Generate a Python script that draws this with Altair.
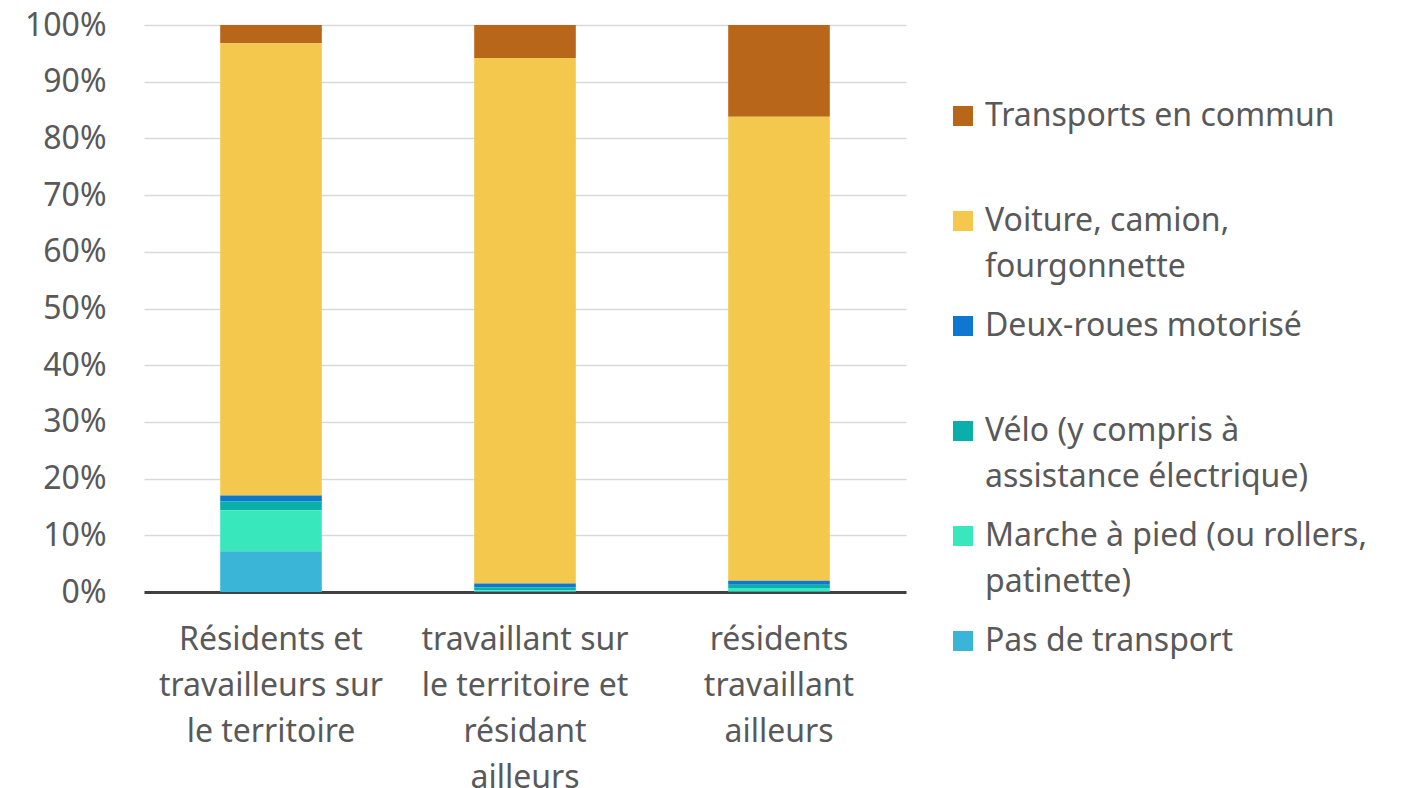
import altair as alt
import pandas as pd

categories = [
    "Résidents et|travailleurs sur|le territoire",
    "travaillant sur|le territoire et|résidant|ailleurs",
    "résidents|travaillant|ailleurs",
]
modes = [
    "Transports en commun",
    "Voiture, camion,|fourgonnette",
    "Deux-roues motorisé",
    "Vélo (y compris à|assistance électrique)",
    "Marche à pied (ou rollers,|patinette)",
    "Pas de transport",
]
colors = ["#B86619", "#F4C74D", "#0E77CF", "#0BAFA9", "#38E8BC", "#3AB4D7"]

transports = [3.2, 5.8, 16.2]
voiture = [79.8, 92.7, 81.8]
deux_roues = [1.0, 0.7, 0.7]
velo = [1.6, 0.5, 0.6]
marche = [7.2, 0.2, 0.6]
pas = [7.2, 0.1, 0.1]

series = [transports, voiture, deux_roues, velo, marche, pas]
rows = []
for mi, (m, vals) in enumerate(zip(modes, series)):
    for ci, c in enumerate(categories):
        rows.append({"cat": c, "mode": m, "value": vals[ci], "rank": len(modes) - mi})
df = pd.DataFrame(rows)

FONT = "Noto Sans"
TXT = "#595959"
FS = 32

legend_label_expr = (
    "indexof(['Transports en commun', 'Deux-roues motorisé'], datum.label) >= 0"
    " ? [datum.label, ' '] : split(datum.label, '|')"
)

chart = (
    alt.Chart(df)
    .mark_bar()
    .encode(
        x=alt.X(
            "cat:N",
            sort=categories,
            title=None,
            scale=alt.Scale(paddingInner=0.6, paddingOuter=0.3),
            axis=alt.Axis(
                labelAngle=0,
                labelExpr="split(datum.label, '|')",
                labelFont=FONT,
                labelFontSize=FS,
                labelColor=TXT,
                labelLineHeight=46,
                labelPadding=32,
                labelBaseline="top",
                ticks=False,
                domainColor="#404040",
                domainWidth=3,
                labelLimit=400,
            ),
        ),
        y=alt.Y(
            "value:Q",
            stack="zero",
            title=None,
            scale=alt.Scale(domain=[0, 100], nice=False),
            axis=alt.Axis(
                values=list(range(0, 101, 10)),
                labelExpr="datum.value + '%'",
                labelFont=FONT,
                labelFontSize=FS,
                labelColor=TXT,
                labelPadding=38,
                ticks=False,
                domain=False,
                gridColor="#D9D9D9",
                gridWidth=1.5,
            ),
        ),
        color=alt.Color(
            "mode:N",
            scale=alt.Scale(domain=modes, range=colors),
            legend=alt.Legend(
                title=None,
                orient="none",
                legendX=803,
                legendY=75,
                symbolType="square",
                symbolSize=400,
                symbolStrokeWidth=0,
                labelFont=FONT,
                labelFontSize=FS,
                labelColor=TXT,
                labelLimit=500,
                labelOffset=6,
                labelExpr=legend_label_expr,
                rowPadding=27,
            ),
        ),
        order=alt.Order("rank:Q", sort="ascending"),
    )
    .properties(width=762, height=567, padding={"left": 16, "top": 1, "right": 5, "bottom": 5})
    .configure(style={"guide-label": {"lineHeight": 46}})
    .configure_view(stroke=None)
)

chart.save("out.html", embed_options={"renderer": "svg", "actions": False})
